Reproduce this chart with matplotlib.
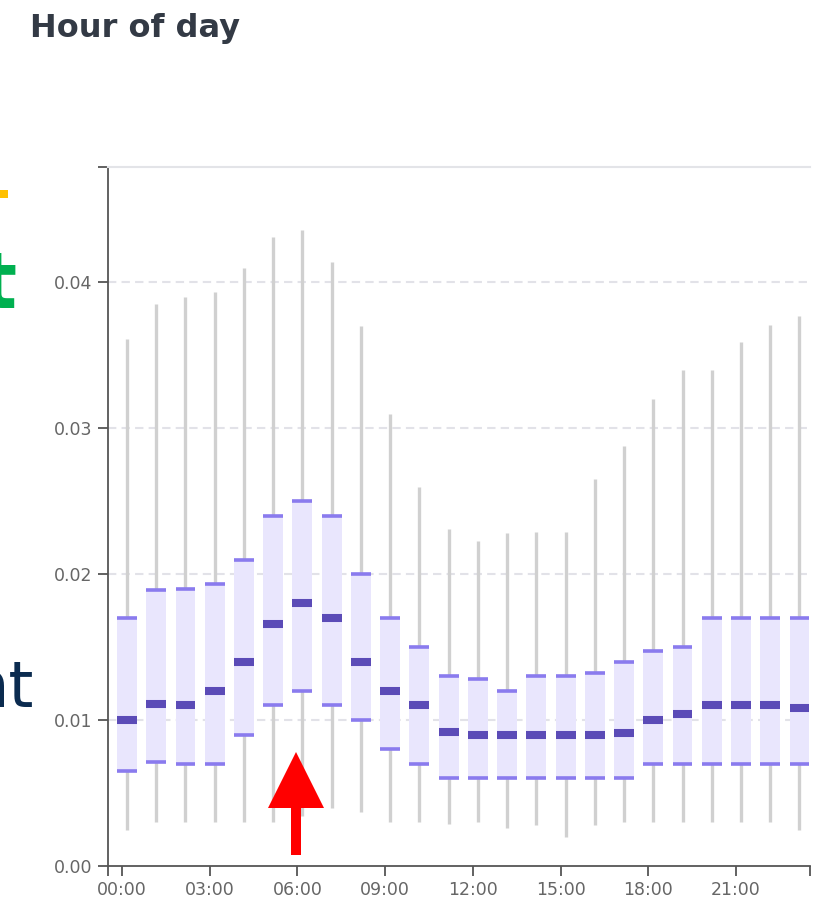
import matplotlib.pyplot as plt
import numpy as np
from matplotlib.patches import FancyArrow, Rectangle

# per-hour distribution
hours = np.arange(24)
tick_hours = [0, 3, 6, 9, 12, 15, 18, 21]
tick_labels = ["00:00", "03:00", "06:00", "09:00", "12:00", "15:00", "18:00", "21:00"]

whisk_lo = [0.0025, 0.0030, 0.0030, 0.0030, 0.0030, 0.0030, 0.0034, 0.0040,
            0.0037, 0.0030, 0.0030, 0.0029, 0.0030, 0.0026, 0.0028, 0.0020,
            0.0028, 0.0030, 0.0030, 0.0030, 0.0030, 0.0030, 0.0030, 0.0025]
q1 = [0.0065, 0.0071, 0.0070, 0.0070, 0.0090, 0.0110, 0.0120, 0.0110,
      0.0100, 0.0080, 0.0070, 0.0060, 0.0060, 0.0060, 0.0060, 0.0060,
      0.0060, 0.0060, 0.0070, 0.0070, 0.0070, 0.0070, 0.0070, 0.0070]
med = [0.0100, 0.0111, 0.0110, 0.0120, 0.0140, 0.0166, 0.0180, 0.0170,
       0.0140, 0.0120, 0.0110, 0.0092, 0.0090, 0.0090, 0.0090, 0.0090,
       0.0090, 0.0091, 0.0100, 0.0104, 0.0110, 0.0110, 0.0110, 0.0108]
q3 = [0.0170, 0.0189, 0.0190, 0.0193, 0.0210, 0.0240, 0.0250, 0.0240,
      0.0200, 0.0170, 0.0150, 0.0130, 0.0128, 0.0120, 0.0130, 0.0130,
      0.0132, 0.0140, 0.0147, 0.0150, 0.0170, 0.0170, 0.0170, 0.0170]
whisk_hi = [0.0361, 0.0385, 0.0390, 0.0393, 0.0410, 0.0431, 0.0436, 0.0414,
            0.0370, 0.0310, 0.0260, 0.0231, 0.0223, 0.0228, 0.0229, 0.0229,
            0.0265, 0.0288, 0.0320, 0.0340, 0.0340, 0.0359, 0.0371, 0.0377]

pos = hours + 0.17
stats = [{"whislo": lo, "q1": a, "med": m, "q3": b, "whishi": hi}
         for lo, a, m, b, hi in zip(whisk_lo, q1, med, q3, whisk_hi)]

fig = plt.figure(figsize=(8.13, 9.01), dpi=100)
ax = fig.add_axes([108/813, 35/901, 702/813, 699/901])

bw = 0.68
ax.bxp(stats, positions=pos, widths=bw, patch_artist=True, showcaps=False,
       showfliers=False,
       boxprops=dict(facecolor="#e9e6fd", edgecolor="none"),
       whiskerprops=dict(color="#d0d0d0", lw=2.4, solid_capstyle="butt"),
       medianprops=dict(color="#5b4bb7", lw=5.8, solid_capstyle="butt"))
ax.hlines(q1, pos - bw/2, pos + bw/2, colors="#8a7bee", lw=2.6)
ax.hlines(q3, pos - bw/2, pos + bw/2, colors="#8a7bee", lw=2.6)

ax.set_xlim(-0.48, 23.53)
ax.set_ylim(0, 0.0479)
ax.set_xticks(tick_hours)
ax.set_xticklabels(tick_labels)
ax.set_yticks([0, 0.01, 0.02, 0.03, 0.04])
ax.set_yticklabels(["0.00", "0.01", "0.02", "0.03", "0.04"])
ax.set_xticks([-0.48, 23.53], minor=True)
ax.set_yticks([0.0479], minor=True)
ax.tick_params(which="both", length=7, width=1.3, color="#555555",
               labelcolor="#666666", labelsize=12.5, pad=4)

for y in [0.01, 0.02, 0.03, 0.04]:
    ax.axhline(y, color="#e2e2e8", lw=1.5, ls=(0, (4, 2.5)), zorder=0)

ax.spines["right"].set_visible(False)
ax.spines["top"].set_color("#e3e4e8")
ax.spines["top"].set_linewidth(1.5)
for s in ["left", "bottom"]:
    ax.spines[s].set_color("#555555")
    ax.spines[s].set_linewidth(1.3)

fig.text(30/813, 1 - 29/901, "Hour of day", fontsize=23, fontweight="bold",
         color="#333a45", va="center", ha="left")

# overlay in pixel coordinates for the slide decorations
ov = fig.add_axes([0, 0, 1, 1], facecolor="none")
ov.set_xlim(0, 813)
ov.set_ylim(901, 0)
ov.axis("off")
ov.add_patch(Rectangle((0, 190), 8, 8, color="#ffc000", lw=0))
ov.text(17, 308, "t", fontsize=56, fontweight="heavy", family="DejaVu Sans",
        color="#00b050", ha="right", va="baseline")
ov.text(34, 707, "nt", fontsize=46, color="#0b2b4f", ha="right", va="baseline")
ov.add_patch(FancyArrow(296, 855, 0, -103, width=10, head_width=56,
                        head_length=56, length_includes_head=True,
                        color="#ff0000", lw=0))

fig.savefig("out.png", dpi=100)
